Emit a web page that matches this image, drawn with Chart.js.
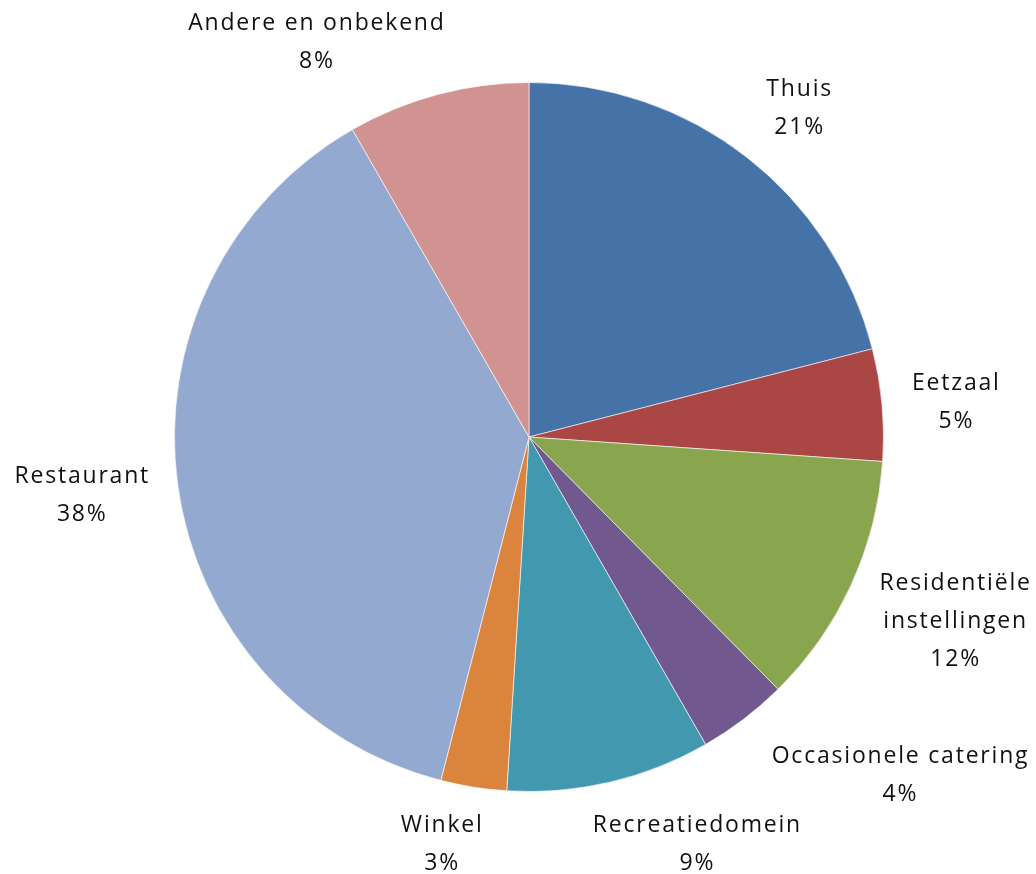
<!DOCTYPE html>
<html>
<head>
<meta charset="utf-8">
<script src="https://cdn.jsdelivr.net/npm/chart.js@4/dist/chart.umd.min.js"></script>
<style>
  html, body { margin: 0; padding: 0; background: #fff; }
  #wrap { width: 1036px; height: 874px; }
</style>
</head>
<body>
<div id="wrap"><canvas id="myChart"></canvas></div>
<script>
// data
const categories = ['Thuis', 'Eetzaal', 'Residentiële instellingen', 'Occasionele catering',
    'Recreatiedomein', 'Winkel', 'Restaurant', 'Andere en onbekend'];
const values = [21.0, 5.1, 11.5, 4.1, 9.3, 3.0, 37.7, 8.3];
const labelLines = [['Thuis'], ['Eetzaal'], ['Residentiële', 'instellingen'], ['Occasionele catering'],
    ['Recreatiedomein'], ['Winkel'], ['Restaurant'], ['Andere en onbekend']];
const colors = ['#4572A7', '#AA4643', '#89A54E', '#71588F', '#4198AF', '#DB843D', '#93A9CF', '#D19392'];

// label look
const FONT = '23px "Open Sans"';
const LINE_H = 38;
const GAP = 22;
// small shifts applied after placement (like Excel's best-fit moves)
const nudge = [[9, 9], [5, 4], [0, -11], [78, -47], [69, 10], [-21, 10], [-2, -2], [-97, 2]];

const outsideLabels = {
    id: 'outsideLabels',
    afterDatasetsDraw(chart) {
        const ctx = chart.ctx;
        const meta = chart.getDatasetMeta(0);
        const total = values.reduce((a, b) => a + b, 0);
        ctx.save();
        ctx.font = FONT;
        ctx.letterSpacing = '1.8px';
        ctx.fillStyle = '#111';
        ctx.textAlign = 'center';
        ctx.textBaseline = 'middle';
        meta.data.forEach(function(arc, i) {
            const lines = labelLines[i].concat([Math.round(values[i] / total * 100) + '%']);
            let w = 0;
            lines.forEach(function(l) { w = Math.max(w, ctx.measureText(l).width); });
            const h = lines.length * LINE_H;
            const mid = (arc.startAngle + arc.endAngle) / 2;
            const ux = Math.cos(mid), uy = Math.sin(mid);
            const d = arc.outerRadius + GAP + Math.abs(ux) * w / 2 + Math.abs(uy) * h / 2;
            let cx = arc.x + ux * d;
            let cy = arc.y + uy * d;
            cx = Math.min(Math.max(cx, w / 2 + 4), chart.width - w / 2 - 4);
            cy = Math.min(Math.max(cy, h / 2 + 2), chart.height - h / 2 - 2);
            cx += nudge[i][0];
            cy += nudge[i][1];
            lines.forEach(function(l, k) {
                ctx.fillText(l, cx, cy - h / 2 + LINE_H * (k + 0.5));
            });
        });
        ctx.restore();
    }
};

new Chart(document.getElementById('myChart'), {
    type: 'pie',
    data: {
        labels: categories,
        datasets: [{
            data: values,
            backgroundColor: colors,
            borderColor: 'rgba(255,255,255,0.6)',
            borderWidth: 1
        }]
    },
    options: {
        responsive: true,
        maintainAspectRatio: false,
        animation: false,
        layout: { padding: { left: 174, right: 152, top: 82, bottom: 82 } },
        plugins: {
            legend: { display: false },
            tooltip: { enabled: false }
        }
    },
    plugins: [outsideLabels]
});
</script>
</body>
</html>
